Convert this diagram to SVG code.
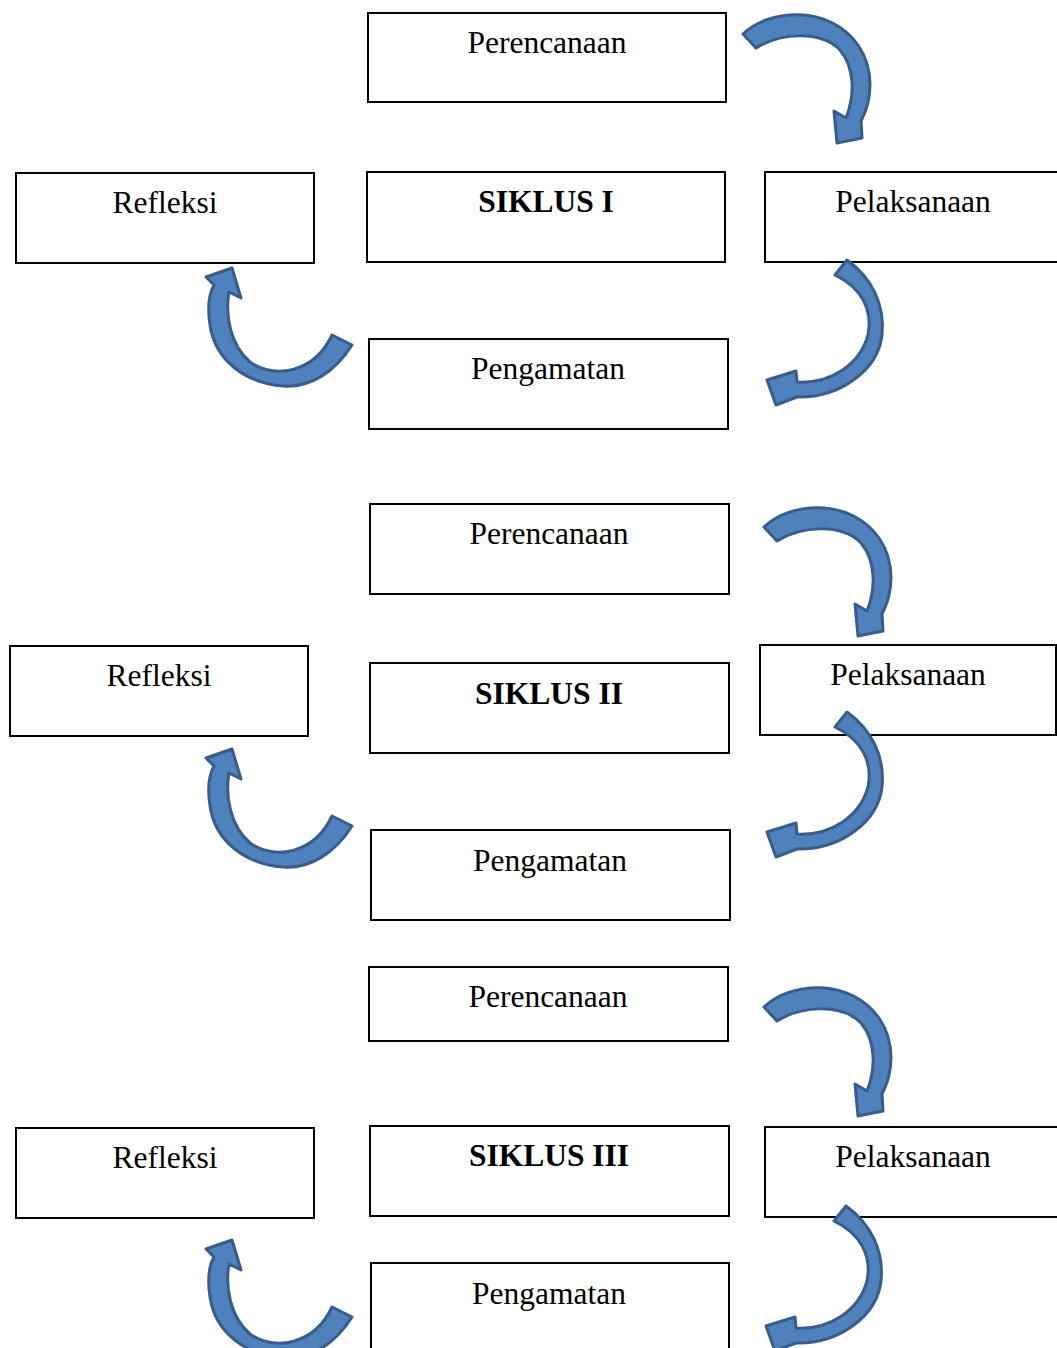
<svg xmlns="http://www.w3.org/2000/svg" xmlns:xlink="http://www.w3.org/1999/xlink" width="1057" height="1348" viewBox="0 0 1057 1348">
<style>
.box{fill:#fff;stroke:#000;stroke-width:2}
.t{font-family:"Liberation Serif","Times New Roman",serif;font-size:31.5px;text-anchor:middle;fill:#000}
.b{font-weight:bold}
.arr{fill:#4F81BD;stroke:#385D8A;stroke-width:3;stroke-linejoin:round}
</style>
<defs>
<path id="arrA" class="arr" d="M743,34 C770,8 830,5 858,45 C875,70 872,100 861,121 L862,138 L837,143 L834,111 L846,118 C855,95 855,68 840,50 C820,30 780,33 756,48 Z"/>
<path id="arrB" class="arr" d="M835,275 L847,260 C872,278 885,305 882,335 C878,370 840,398 797,397 L776,405 L767,380 L796,371 L797,382 C830,384 860,365 868,335 C873,310 862,288 835,275 Z"/>
<path id="arrC" class="arr" d="M352,345 C335,372 310,388 283,386 C245,383 215,360 210,325 C207,305 210,292 214,285 L206,277 L232,268 L241,298 L229,292 C225,315 230,345 250,362 C275,380 315,372 332,335 Z"/>
</defs>
<rect width="1057" height="1348" fill="#fff"/>
<g id="c1-perencanaan"><rect class="box" x="368" y="13" width="358" height="89"/><text class="t" x="547" y="53">Perencanaan</text></g>
<g id="c1-siklus"><rect class="box" x="367" y="172" width="358" height="90"/><text class="t b" x="546" y="212">SIKLUS I</text></g>
<g id="c1-refleksi"><rect class="box" x="16" y="173" width="298" height="90"/><text class="t" x="165" y="213">Refleksi</text></g>
<g id="c1-pelaksanaan"><rect class="box" x="765" y="172" width="296" height="90"/><text class="t" x="913" y="212">Pelaksanaan</text></g>
<g id="c1-pengamatan"><rect class="box" x="369" y="339" width="359" height="90"/><text class="t" x="548" y="379">Pengamatan</text></g>
<g id="c2-perencanaan"><rect class="box" x="370" y="504" width="359" height="90"/><text class="t" x="549" y="544">Perencanaan</text></g>
<g id="c2-siklus"><rect class="box" x="370" y="663" width="359" height="90"/><text class="t b" x="549" y="704">SIKLUS II</text></g>
<g id="c2-refleksi"><rect class="box" x="10" y="646" width="298" height="90"/><text class="t" x="159" y="686">Refleksi</text></g>
<g id="c2-pelaksanaan"><rect class="box" x="760" y="645" width="296" height="90"/><text class="t" x="908" y="685">Pelaksanaan</text></g>
<g id="c2-pengamatan"><rect class="box" x="371" y="830" width="359" height="90"/><text class="t" x="550" y="871">Pengamatan</text></g>
<g id="c3-perencanaan"><rect class="box" x="369" y="967" width="359" height="74"/><text class="t" x="548" y="1007">Perencanaan</text></g>
<g id="c3-siklus"><rect class="box" x="370" y="1126" width="359" height="90"/><text class="t b" x="549" y="1166">SIKLUS III</text></g>
<g id="c3-refleksi"><rect class="box" x="16" y="1128" width="298" height="90"/><text class="t" x="165" y="1168">Refleksi</text></g>
<g id="c3-pelaksanaan"><rect class="box" x="765" y="1127" width="296" height="90"/><text class="t" x="913" y="1167">Pelaksanaan</text></g>
<g id="c3-pengamatan"><rect class="box" x="371" y="1263" width="358" height="100"/><text class="t" x="549" y="1304">Pengamatan</text></g>
<g id="connectors">
<use xlink:href="#arrA"/>
<use xlink:href="#arrB"/>
<use xlink:href="#arrC"/>
<use xlink:href="#arrA" transform="translate(21,493)"/>
<use xlink:href="#arrB" transform="translate(0,452)"/>
<use xlink:href="#arrC" transform="translate(0,481)"/>
<use xlink:href="#arrA" transform="translate(21,973)"/>
<use xlink:href="#arrB" transform="translate(-1,946)"/>
<use xlink:href="#arrC" transform="translate(0,972)"/>
</g>
</svg>
